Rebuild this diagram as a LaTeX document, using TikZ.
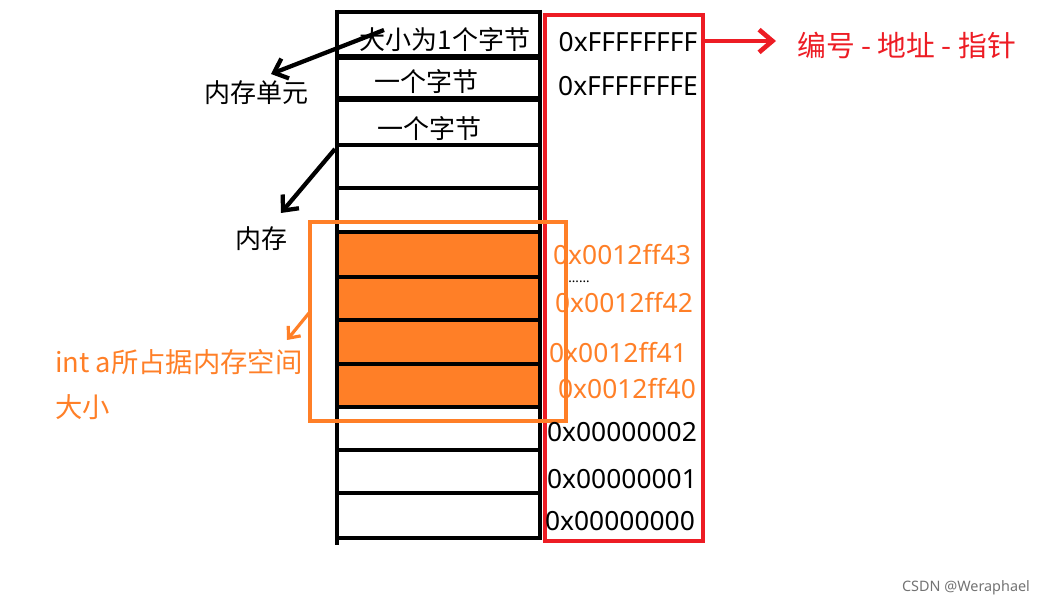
\documentclass[tikz,border=0pt]{standalone}
\usepackage{fontspec}
\setmainfont{Noto Sans}
\newfontfamily\cjk{Noto Sans CJK SC}
\usetikzlibrary{arrows.meta}
\definecolor{pred}{HTML}{ED1C24}
\definecolor{porange}{HTML}{FF7F27}
\tikzset{
  cell/.style={line width=3.6pt, black},
  thickcell/.style={line width=5pt, black},
  cnlbl/.style={font=\cjk\fontsize{19.5pt}{22pt}\selectfont, inner sep=0pt},
  hexlbl/.style={font=\fontsize{19.8pt}{22pt}\selectfont, inner sep=0pt},
  blackarrow/.style={line width=3.2pt, -{Straight Barb[length=9pt,width=16pt]}},
}
\begin{document}
\begin{tikzpicture}[x=0.75pt,y=-0.75pt]
\useasboundingbox (0,0) rectangle (1043,605);
% orange filled cells
\foreach \a/\b in {232/277,277/320,320/364,364/407}
  \fill[porange] (337,\a) rectangle (540,\b);
% memory column lines
\foreach \y in {12,145,188,232,277,320,364,407,450,493,538}
  \draw[cell] (335,\y) -- (542,\y);
\foreach \y in {57,99}
  \draw[thickcell] (335,\y) -- (542,\y);
\draw[cell] (337,10) -- (337,545);
\draw[cell] (540,10) -- (540,540);
% red box
\draw[pred, line width=3pt] (545,15) rectangle (703,541);
% orange box
\draw[porange, line width=2.6pt] (310,222) rectangle (566,421);
% labels in cells
\node[cnlbl] (c1) at (445,40) {大小为1个字节};
\node[cnlbl] (c2) at (426,82) {一个字节};
\node[cnlbl] (c3) at (429,129) {一个字节};
\node[cnlbl] (mu) at (256,93) {内存单元};
\node[cnlbl] (mem) at (261,239) {内存};
% addresses
\node[hexlbl, text=porange] (h43) at (622,255) {0x0012ff43};
\node[font=\bfseries\fontsize{10pt}{11pt}\selectfont, inner sep=0pt] (dots) at (579,282) {……};
\node[hexlbl] (h1) at (628,42) {0xFFFFFFFF};
\node[hexlbl] (h2) at (628,86) {0xFFFFFFFE};
\node[hexlbl, text=porange] (h42) at (624,303) {0x0012ff42};
\node[hexlbl, text=porange] (h41) at (618,353) {0x0012ff41};
\node[hexlbl, text=porange] (h40) at (627,389) {0x0012ff40};
\node[hexlbl] (h02) at (622,432) {0x00000002};
\node[hexlbl] (h01) at (622,479) {0x00000001};
\node[hexlbl] (h00) at (620,521) {0x00000000};
% red label
\node[font=\cjk\fontsize{21.6pt}{24pt}\selectfont, text=pred, inner sep=0pt, anchor=west] (ptr) at (797,45) {编号 - 地址 - 指针};
\coordinate (rs) at (703,41);
\coordinate (rt) at (776,41);
\draw[pred, line width=3.5pt, -{Straight Barb[length=10pt,width=17pt]}] (rs) -- (rt);
% orange label
\node[font=\cjk\fontsize{20.5pt}{24pt}\selectfont, text=porange, inner sep=0pt, anchor=west] (ia) at (55,362) {int a所占据内存空间};
\node[font=\cjk\fontsize{20.5pt}{24pt}\selectfont, text=porange, inner sep=0pt, anchor=west] (ia2) at (55,407) {大小};
\coordinate (os) at (309,313);
\coordinate (ot) at (287,340);
\draw[porange, line width=2.4pt, -{Straight Barb[length=7pt,width=12pt]}] (os) -- (ot);
% black arrows
\coordinate (a1s) at (384,30);
\coordinate (a1t) at (271,74);
\draw[blackarrow] (a1s) -- (a1t);
\coordinate (a2s) at (335,149);
\coordinate (a2t) at (281,213);
\draw[blackarrow] (a2s) -- (a2t);
% watermark
\node[font=\fontsize{10.8pt}{13pt}\selectfont, text=black!55, inner sep=0pt] (wm) at (966,588) {CSDN @Weraphael};
\end{tikzpicture}
\end{document}
